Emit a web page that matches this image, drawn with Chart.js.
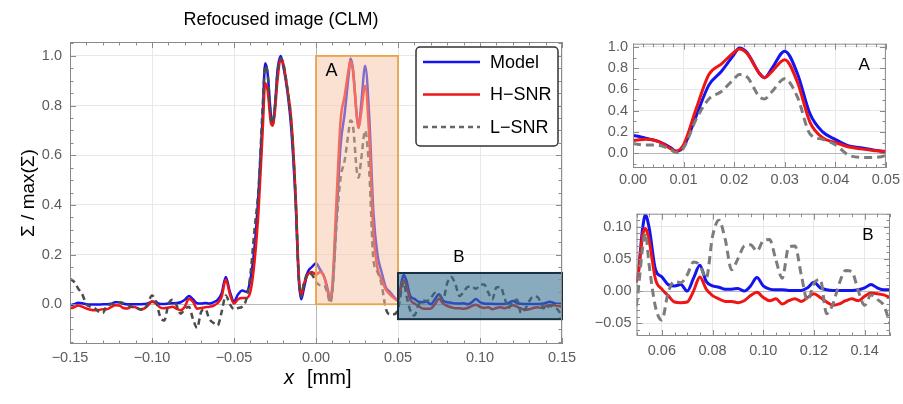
<!DOCTYPE html>
<html>
<head>
<meta charset="utf-8">
<script src="https://cdn.jsdelivr.net/npm/chart.js@4.4.1/dist/chart.umd.min.js"></script>
<style>
  body { margin: 0; background: #fff; width: 903px; height: 404px; position: relative; overflow: hidden; }
  .wrap { position: absolute; }
  #mainWrap { left: 0; top: 0; width: 585px; height: 404px; }
  #insetAWrap { left: 590px; top: 30px; width: 313px; height: 175px; }
  #insetBWrap { left: 590px; top: 200px; width: 313px; height: 175px; }
</style>
</head>
<body>
<div class="wrap" id="mainWrap"><canvas id="mainChart"></canvas></div>
<div class="wrap" id="insetAWrap"><canvas id="insetA"></canvas></div>
<div class="wrap" id="insetBWrap"><canvas id="insetB"></canvas></div>
<script>
// sample positions along x [mm]
const xs = [
  -0.15, -0.1475, -0.145, -0.1425, -0.14, -0.1375, -0.135, -0.1325, -0.13, -0.1275,
  -0.125, -0.1225, -0.12, -0.1175, -0.115, -0.1125, -0.11, -0.1075, -0.105, -0.1025,
  -0.1, -0.0975, -0.095, -0.0925, -0.09, -0.0875, -0.085, -0.0825, -0.08, -0.0775,
  -0.075, -0.0725, -0.07, -0.0675, -0.065, -0.0625, -0.06, -0.0575, -0.055, -0.0525,
  -0.05, -0.0475, -0.045, -0.0425, -0.04,
  -0.0375, -0.035, -0.0325, -0.031, -0.0295, -0.0275, -0.0265, -0.025, -0.0235, -0.0215,
  -0.02, -0.0175, -0.015, -0.0125, -0.0105, -0.009, -0.0075, -0.005, -0.0025, 0,
  0.0025, 0.005, 0.0075, 0.0085, 0.01, 0.0125, 0.015, 0.0175, 0.02, 0.021,
  0.0225, 0.025, 0.026, 0.0275, 0.03, 0.0325, 0.035, 0.0375, 0.04, 0.0425,
  0.045, 0.0475, 0.05,
  0.0525, 0.0535, 0.055, 0.0575, 0.06, 0.0625, 0.065, 0.0675, 0.07, 0.0725,
  0.075, 0.0775, 0.08, 0.0825, 0.085, 0.0875, 0.09, 0.0925, 0.095, 0.0975,
  0.1, 0.1025, 0.105, 0.1075, 0.11, 0.1125, 0.115, 0.1175, 0.12, 0.1225,
  0.125, 0.1275, 0.13, 0.1325, 0.135, 0.1375, 0.14, 0.1425, 0.145, 0.1475, 0.15
];

const model = [
  -0.004, 0.0, 0.006, 0.004, 0.0, -0.001, -0.001, -0.001, 0.0, 0.0,
  0.002, 0.008, 0.008, 0.002, 0.0, 0.0, 0.0, 0.0, 0.001, 0.003,
  0.01, 0.008, 0.001, 0.001, 0.003, 0.004, 0.005, 0.008, 0.018, 0.033,
  0.02, 0.004, 0.003, 0.005, 0.003, 0.008, 0.018, 0.045, 0.11, 0.05,
  0.012, 0.04, 0.055, 0.05, 0.1,
  0.23, 0.45, 0.76, 0.97, 0.93, 0.76, 0.72, 0.8, 0.94, 1.0,
  0.96, 0.86, 0.7, 0.42, 0.1, 0.02, 0.06, 0.13, 0.15, 0.165,
  0.14, 0.11, 0.05, 0.016, 0.06, 0.35, 0.64, 0.77, 0.93, 0.99,
  0.95, 0.75, 0.71, 0.8, 0.96, 0.75, 0.37, 0.2, 0.13, 0.07,
  0.05, 0.03, 0.015,
  0.1, 0.118, 0.098, 0.033, 0.022, 0.01, 0.008, 0.01, 0.0, 0.02,
  0.04, 0.015, 0.008, 0.006, 0.003, 0.003, 0.004, 0.0, 0.008, 0.021,
  0.008, 0.003, 0.002, 0.002, 0.001, 0.001, 0.001, 0.005, 0.0135, 0.005,
  0.002, 0.001, 0.001, 0.001, 0.001, 0.002, 0.005, 0.01, 0.005, 0.002, 0.002
];

const hSnr = [
  -0.017, -0.012, -0.005, -0.01, -0.017, -0.022, -0.024, -0.023, -0.02, -0.02,
  -0.012, -0.004, -0.005, -0.015, -0.017, -0.01, -0.012, -0.02, -0.018, -0.005,
  0.012, 0.002, -0.013, -0.016, -0.013, -0.01, -0.018, -0.024, -0.01, 0.022,
  0.01, -0.018, -0.015, -0.012, -0.01, -0.006, 0.005, 0.03, 0.1, 0.04,
  0.003, 0.02, 0.025, 0.025, 0.05,
  0.17, 0.38, 0.7, 0.89, 0.86, 0.73, 0.72, 0.78, 0.9, 0.99,
  0.97, 0.87, 0.74, 0.45, 0.12, 0.035, 0.08, 0.12, 0.13, 0.12,
  0.13, 0.11, 0.04, 0.02, 0.08, 0.42, 0.74, 0.84, 0.95, 0.98,
  0.94, 0.75, 0.71, 0.77, 0.88, 0.67, 0.29, 0.145, 0.1, 0.06,
  0.04, 0.025, 0.015,
  0.088, 0.097, 0.078, 0.018, 0.003, -0.007, -0.017, -0.018, -0.017, 0.0,
  0.022, 0.003, -0.007, -0.012, -0.016, -0.016, -0.018, -0.015, -0.007, -0.002,
  -0.01, -0.015, -0.012, -0.02, -0.015, -0.012, -0.016, -0.01, -0.004, -0.01,
  -0.017, -0.022, -0.02, -0.015, -0.012, -0.015, -0.008, -0.003, -0.004, -0.006, -0.01
];

const lSnr = [
  0.103, 0.09, 0.063, 0.04, 0.0, -0.01, -0.015, -0.03, -0.035, -0.005,
  0.0, 0.003, 0.008, 0.005, -0.002, -0.01, -0.012, -0.02, -0.022, 0.005,
  0.035, 0.01, -0.05, -0.065, 0.0, 0.018, -0.005, -0.038, -0.02, -0.01,
  -0.06, -0.095, -0.03, -0.02, -0.06, -0.075, -0.085, -0.03, 0.035, 0.0,
  -0.02, -0.015, -0.01, 0.02, 0.12,
  0.3, 0.47, 0.8, 0.96, 0.93, 0.75, 0.73, 0.8, 0.93, 0.99,
  0.97, 0.87, 0.72, 0.44, 0.1, 0.03, 0.08, 0.125, 0.12, 0.09,
  0.077, 0.075, 0.03, 0.005, 0.05, 0.32, 0.51, 0.58, 0.7, 0.74,
  0.72, 0.53, 0.51, 0.58, 0.7, 0.53, 0.18, 0.13, 0.08, -0.016,
  -0.04, -0.04, -0.02,
  0.07, 0.09, 0.04, -0.025, -0.045, -0.002, 0.015, 0.013, 0.025, 0.045,
  0.04, 0.02, 0.085, 0.11, 0.08, 0.033, 0.05, 0.07, 0.072, 0.062,
  0.078, 0.08, 0.048, 0.02, 0.068, 0.07, 0.025, -0.015, 0.012, 0.018,
  -0.035, -0.02, 0.012, 0.032, 0.03, 0.0, -0.022, -0.006, -0.013, -0.022, -0.05
];

const seriesLabels = ['Model', 'H\u2212SNR', 'L\u2212SNR'];

const mainXTicks = [-0.15, -0.1, -0.05, 0, 0.05, 0.1, 0.15];
const mainYTicks = [0, 0.2, 0.4, 0.6, 0.8, 1.0];
const insetAXTicks = [0, 0.01, 0.02, 0.03, 0.04, 0.05];
const insetAYTicks = [0, 0.2, 0.4, 0.6, 0.8, 1.0];
const insetBXTicks = [0.06, 0.08, 0.1, 0.12, 0.14];
const insetBYTicks = [-0.05, 0, 0.05, 0.1];

const FONT = '"Liberation Sans", Arial, Helvetica, sans-serif';

function toPoints(ys) {
  return xs.map((x, i) => ({ x: x, y: ys[i] }));
}

function fmt(digits) {
  return v => (v < -1e-12 ? '\u2212' : '') + Math.abs(v).toFixed(digits);
}

function series(width, dashColor, dash) {
  return [
    { label: seriesLabels[0], data: toPoints(model), borderColor: '#1414f0', order: 3 },
    { label: seriesLabels[1], data: toPoints(hSnr), borderColor: '#f01414', order: 2 },
    { label: seriesLabels[2], data: toPoints(lSnr), borderColor: dashColor, borderDash: dash, order: 1 }
  ].map(d => Object.assign(d, {
    borderWidth: width, pointRadius: 0, fill: false, cubicInterpolationMode: 'monotone'
  }));
}

// frame around the plot with inward major/minor ticks on all four sides
const frameTicks = {
  id: 'frameTicks',
  afterDraw(chart, args, o) {
    const { ctx, chartArea: a, scales } = chart;
    ctx.save();
    ctx.strokeStyle = '#8a8a8a';
    ctx.lineWidth = 1;
    ctx.strokeRect(a.left + 0.5, a.top + 0.5, a.right - a.left - 1, a.bottom - a.top - 1);
    const marks = (scale, step) => {
      const out = [];
      const n0 = Math.ceil(scale.min / step - 1e-6), n1 = Math.floor(scale.max / step + 1e-6);
      for (let n = n0; n <= n1; n++) {
        const v = n * step;
        const major = scale.ticks.some(t => Math.abs(t.value - v) < step / 10);
        out.push({ p: Math.round(scale.getPixelForValue(v)) + 0.5, len: major ? 6 : 3.5 });
      }
      return out;
    };
    ctx.beginPath();
    marks(scales.x, o.xMinor).forEach(m => {
      ctx.moveTo(m.p, a.bottom); ctx.lineTo(m.p, a.bottom - m.len);
      ctx.moveTo(m.p, a.top); ctx.lineTo(m.p, a.top + m.len);
    });
    marks(scales.y, o.yMinor).forEach(m => {
      ctx.moveTo(a.left, m.p); ctx.lineTo(a.left + m.len, m.p);
      ctx.moveTo(a.right, m.p); ctx.lineTo(a.right - m.len, m.p);
    });
    ctx.stroke();
    ctx.restore();
  }
};

// shaded regions A and B plus the panel letters
const regionBoxes = {
  id: 'regionBoxes',
  afterDatasetsDraw(chart, args, o) {
    const { ctx, scales: { x, y } } = chart;
    ctx.save();
    (o.boxes || []).forEach(b => {
      const l = x.getPixelForValue(b.x0), r = x.getPixelForValue(b.x1);
      const t = y.getPixelForValue(b.y1), btm = y.getPixelForValue(b.y0);
      ctx.fillStyle = b.fill;
      ctx.fillRect(l, t, r - l, btm - t);
      ctx.strokeStyle = b.stroke;
      ctx.lineWidth = b.width;
      ctx.strokeRect(l, t, r - l, btm - t);
    });
    (o.letters || []).forEach(s => {
      ctx.fillStyle = '#000';
      ctx.font = s.size + 'px ' + FONT;
      ctx.textAlign = 'center';
      ctx.textBaseline = 'middle';
      ctx.fillText(s.text, x.getPixelForValue(s.x), y.getPixelForValue(s.y));
    });
    ctx.restore();
  }
};

// framed legend inside the plot
const boxLegend = {
  id: 'boxLegend',
  afterDraw(chart, args, o) {
    if (!o.show) return;
    const { ctx } = chart;
    ctx.save();
    ctx.beginPath();
    ctx.roundRect(o.left, o.top, o.width, o.height, 4);
    ctx.fillStyle = '#fff';
    ctx.fill();
    ctx.strokeStyle = '#333';
    ctx.lineWidth = 1.5;
    ctx.stroke();
    chart.data.datasets.forEach((ds, i) => {
      const yy = o.firstRow + i * o.rowGap;
      ctx.beginPath();
      ctx.strokeStyle = i === 2 ? '#666' : ds.borderColor;
      ctx.lineWidth = 2.5;
      ctx.setLineDash(ds.borderDash ? [5, 4] : []);
      ctx.moveTo(o.left + 7, yy);
      ctx.lineTo(o.left + 64, yy);
      ctx.stroke();
      ctx.setLineDash([]);
      ctx.fillStyle = '#000';
      ctx.font = '18px ' + FONT;
      ctx.textAlign = 'left';
      ctx.textBaseline = 'middle';
      ctx.fillText(ds.label, o.left + 74, yy + 1);
    });
    ctx.restore();
  }
};

// title and axis titles of the main panel
const panelTitles = {
  id: 'panelTitles',
  afterDraw(chart, args, o) {
    if (!o.show) return;
    const { ctx } = chart;
    ctx.save();
    ctx.fillStyle = '#000';
    ctx.textBaseline = 'alphabetic';
    ctx.textAlign = 'center';
    ctx.font = '18px ' + FONT;
    ctx.fillText('Refocused image (CLM)', 281, 25);
    ctx.save();
    ctx.translate(34, 193);
    ctx.rotate(-Math.PI / 2);
    ctx.font = '19px ' + FONT;
    ctx.fillText('\u03a3 / max(\u03a3)', 0, 0);
    ctx.restore();
    ctx.textAlign = 'left';
    ctx.font = 'italic 20px ' + FONT;
    ctx.fillText('x', 284, 384);
    ctx.font = '20px ' + FONT;
    ctx.fillText('[mm]', 307, 384);
    ctx.restore();
  }
};

function makeChart(id, c) {
  const gridColor = ctx => (ctx.tick && Math.abs(ctx.tick.value) < 1e-9) ? '#b8b8b8' : '#e8e8e8';
  const tickFont = { family: FONT, size: 14.5 };
  return new Chart(document.getElementById(id), {
    type: 'line',
    data: { datasets: series(c.lineWidth, c.dashColor, c.dash) },
    options: {
      responsive: true,
      maintainAspectRatio: false,
      animation: false,
      events: [],
      layout: { padding: c.padding },
      scales: {
        x: {
          type: 'linear', min: c.xMin, max: c.xMax,
          afterBuildTicks: s => { s.ticks = c.xTicks.map(v => ({ value: v })); },
          afterFit: s => { s.height = c.xBand; },
          grid: { color: gridColor, drawTicks: false, lineWidth: 1 },
          border: { display: false },
          ticks: { callback: fmt(2), color: '#5c5c5c', font: tickFont, padding: c.xPad, maxRotation: 0, autoSkip: false }
        },
        y: {
          type: 'linear', min: c.yMin, max: c.yMax,
          afterBuildTicks: s => { s.ticks = c.yTicks.map(v => ({ value: v })); },
          afterFit: s => { s.width = c.yBand; },
          grid: { color: gridColor, drawTicks: false, lineWidth: 1 },
          border: { display: false },
          ticks: { callback: fmt(c.yDigits), color: '#5c5c5c', font: tickFont, padding: c.yPad, autoSkip: false }
        }
      },
      plugins: {
        legend: { display: false },
        tooltip: { enabled: false },
        title: { display: false },
        frameTicks: { xMinor: c.xMinor, yMinor: c.yMinor },
        regionBoxes: { boxes: c.boxes, letters: c.letters },
        boxLegend: c.legend || { show: false },
        panelTitles: { show: !!c.titles }
      }
    },
    plugins: [regionBoxes, frameTicks, boxLegend, panelTitles]
  });
}

makeChart('mainChart', {
  xMin: -0.15, xMax: 0.15, yMin: -0.16, yMax: 1.056,
  xTicks: mainXTicks, yTicks: mainYTicks, yDigits: 1,
  xMinor: 0.01, yMinor: 0.05,
  padding: { left: 0, top: 42, right: 23, bottom: 0 },
  yBand: 70, xBand: 60,
  xPad: 5, yPad: 8,
  lineWidth: 2.5, dashColor: '#4c4c4c', dash: [6, 4],
  boxes: [
    { x0: 0, x1: 0.05, y0: 0, y1: 1.0, fill: 'rgba(245,195,165,0.5)', stroke: '#e8a54a', width: 1.8 },
    { x0: 0.05, x1: 0.15, y0: -0.06, y1: 0.126, fill: 'rgba(60,115,145,0.6)', stroke: '#17303f', width: 2 }
  ],
  letters: [
    { text: 'A', x: 0.0095, y: 0.9375, size: 18 },
    { text: 'B', x: 0.0872, y: 0.1875, size: 17 }
  ],
  legend: { show: true, left: 416, top: 47, width: 142, height: 99, firstRow: 62, rowGap: 32.5 },
  titles: true
});

makeChart('insetA', {
  xMin: 0, xMax: 0.05, yMin: -0.14, yMax: 1.03,
  xTicks: insetAXTicks, yTicks: insetAYTicks, yDigits: 1,
  xMinor: 0.002, yMinor: 0.1,
  padding: { left: 0, top: 13, right: 15, bottom: 0 },
  yBand: 43, xBand: 37,
  xPad: 3, yPad: 5,
  lineWidth: 3, dashColor: '#7c7c7c', dash: [8, 5],
  boxes: [],
  letters: [{ text: 'A', x: 0.0457, y: 0.825, size: 17 }]
});

makeChart('insetB', {
  xMin: 0.05, xMax: 0.15, yMin: -0.0697, yMax: 0.12,
  xTicks: insetBXTicks, yTicks: insetBYTicks, yDigits: 2,
  xMinor: 0.005, yMinor: 0.01,
  padding: { left: 0, top: 10, right: 13, bottom: 0 },
  yBand: 46.5, xBand: 39,
  xPad: 6, yPad: 5,
  lineWidth: 3, dashColor: '#7c7c7c', dash: [8, 5],
  boxes: [],
  letters: [{ text: 'B', x: 0.1413, y: 0.0863, size: 17 }]
});
</script>
</body>
</html>
